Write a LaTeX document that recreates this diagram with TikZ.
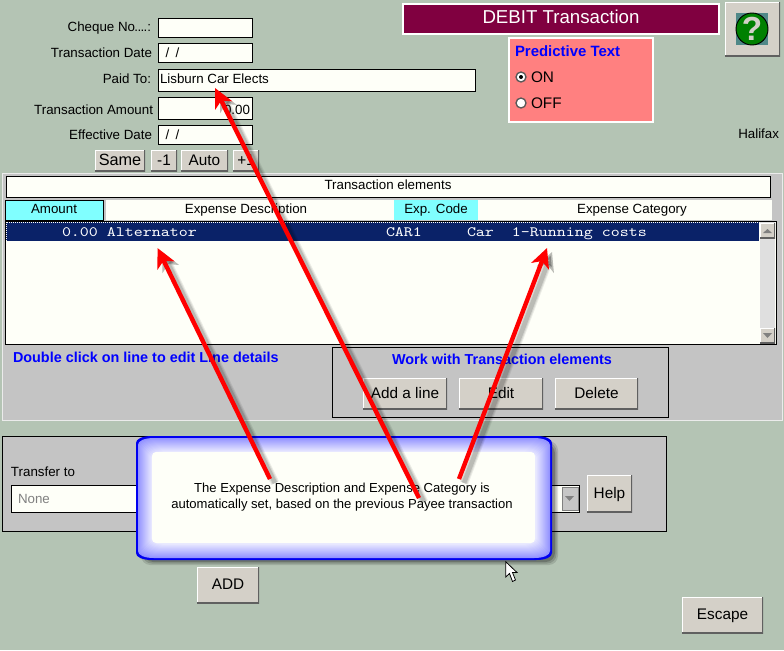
\documentclass[tikz,border=0pt]{standalone}
\usepackage{fontspec}
\setmainfont{Liberation Sans}
\setmonofont[FakeStretch=1.2]{Latin Modern Mono}
\usetikzlibrary{arrows.meta}
\definecolor{bgc}{HTML}{B4C4B4}
\definecolor{panelc}{HTML}{C4C4C4}
\definecolor{ivory}{HTML}{FEFFF8}
\definecolor{btnc}{HTML}{D4D0C8}
\definecolor{btnd}{HTML}{606060}
\definecolor{cyanc}{HTML}{80FFFF}
\definecolor{navyc}{HTML}{0A2268}
\definecolor{maroonc}{HTML}{800040}
\definecolor{pinkc}{HTML}{FF8080}
\definecolor{tealc}{HTML}{508888}
\definecolor{calloutb}{HTML}{0000F0}
\newcommand\bx[7]{\node[#2,minimum width={(#5-#3)*0.75pt},minimum height={(#6-#4)*0.75pt}] (#1) at ({(#3+#5)/2},{(#4+#6)/2}) {#7};}
\newcommand\redarrow[2]{%
  \foreach \w/\o in {6.5/0.07,5/0.09,3.4/0.13}{
    \draw[draw=black,opacity=\o,line width=\w pt,-{Stealth[length=14pt,width=13.5pt,inset=4pt]}] ([shift={(5,4)}]#1) -- ([shift={(5,4)}]#2);}
  \draw[draw=red,line width=3.3pt,-{Stealth[length=14.5pt,width=14pt,inset=4pt]}] (#1) -- (#2);}
% rounded outline with corners wider than tall, inset by #1 from the callout
\newcommand\calloutfill[2]{%
  \pgfmathsetmacro\xa{136+#1}\pgfmathsetmacro\xb{552-#1}%
  \pgfmathsetmacro\ya{436+#1}\pgfmathsetmacro\yb{560-#1}%
  \pgfmathsetmacro\xc{\xa+16}\pgfmathsetmacro\xd{\xb-16}%
  \pgfmathsetmacro\yc{\ya+7}\pgfmathsetmacro\yd{\yb-7}%
  \pgfmathsetmacro\xe{\xa+6}\pgfmathsetmacro\xf{\xb-6}%
  \pgfmathsetmacro\ye{\ya+3}\pgfmathsetmacro\yf{\yb-3}%
  \fill[#2] (\xa,\yc) .. controls (\xa,\ye) and (\xe,\ya) .. (\xc,\ya) -- (\xd,\ya)
  .. controls (\xf,\ya) and (\xb,\ye) .. (\xb,\yc) -- (\xb,\yd)
  .. controls (\xb,\yf) and (\xf,\yb) .. (\xd,\yb) -- (\xc,\yb)
  .. controls (\xe,\yb) and (\xa,\yf) .. (\xa,\yd) -- cycle;}
\tikzset{
  x=0.75pt,y=-0.75pt,
  every node/.style={inner sep=0pt,outer sep=0pt,font=\fontsize{10}{12}\selectfont},
  tbox/.style={draw=black,fill=ivory,line width=0.72pt},
  lbl/.style={anchor=base east},
  txt/.style={anchor=base west},
  ctr/.style={text height=7.2pt,text depth=0pt},
  winbtn/.style={ctr,fill=btnc,path picture={
    \draw[white,line width=2pt] (path picture bounding box.south west)--(path picture bounding box.north west)--(path picture bounding box.north east);
    \draw[btnd,line width=2pt] (path picture bounding box.south west)--(path picture bounding box.south east)--(path picture bounding box.north east);}},
  head/.style={text height=7.2pt,text depth=2.7pt,fill=ivory},
  headc/.style={text height=7.2pt,text depth=2.7pt,fill=cyanc},
  bluebold/.style={text=blue,font=\fontsize{10.8}{12}\selectfont\bfseries},
  rowtext/.style={anchor=base west,text=white,font=\fontsize{10.7}{12}\selectfont\ttfamily},
  btnfont/.style={font=\fontsize{11.5}{12}\selectfont},
}
\begin{document}
\begin{tikzpicture}
\useasboundingbox (0,0) rectangle (784,650);
\fill[bgc] (0,0) rectangle (784,650);

% top form
\bx{cheque}{tbox}{158}{18}{252}{37}{}
\bx{tdate}{tbox}{158}{43}{252}{62}{}
\bx{paid}{tbox}{158}{69}{475}{91}{}
\bx{amount}{tbox}{158}{97}{252}{119}{}
\bx{edate}{tbox}{158}{125}{252}{144}{}
\node[lbl] (lcheque) at (151,31) {Cheque No\kern-0.5pt.\kern-0.5pt.\kern-0.5pt.\kern-0.5pt.:};
\node[lbl] (ltdate) at (152,57) {Transaction Date};
\node[lbl] (lpaid) at (151,83) {Paid To:};
\node[lbl] (lamount) at (153,114) {Transaction Amount};
\node[lbl] (ledate) at (152,139) {Effective Date};
\node[txt] (vtdate) at (165.5,57) {/\hspace{2pt} /};
\node[txt] (vpaid) at (160,83) {Lisburn Car Elects};
\node[lbl] (vamount) at (250,114) {0.00};
\node[txt] (vedate) at (165.5,139) {/\hspace{2pt} /};
\bx{same}{winbtn,btnfont}{95}{150}{145}{171}{\fontsize{12.2}{12}\selectfont Same}
\bx{minus}{winbtn,btnfont}{151}{150}{177}{171}{-1}
\bx{auto}{winbtn,btnfont}{181}{150}{228}{171}{Auto}
\bx{plus}{winbtn,btnfont}{233}{150}{259}{171}{+1}

% title and help
\bx{title}{draw=white,fill=maroonc,text=white,line width=0.8pt,text height=10pt,text depth=4pt}{403}{4}{719}{34}{\fontsize{14}{16}\selectfont DEBIT Transaction}
\bx{helpq}{winbtn}{725}{2}{780}{56}{}
\fill[tealc] (736,13) rectangle (768,45);
\draw[black,fill=green!50!black,line width=0.7pt] (752,29) circle[radius=16];
\node[text=btnc,font=\fontsize{25}{25}\selectfont\bfseries] (qmark) at (752,29) {?};

% predictive text
\bx{pred}{draw=white,fill=pinkc,line width=0.8pt}{509}{38}{653}{122}{}
\node[txt,bluebold,font=\fontsize{11.2}{12}\selectfont\bfseries] (predt) at (515,56) {Predictive Text};
\draw[fill=white,draw=gray!70!black,line width=1pt] (521,77) circle[radius=5];
\fill[black] (521,77) circle[radius=2];
\draw[fill=white,draw=gray!70!black,line width=1pt] (521,103) circle[radius=5];
\node[txt,btnfont] (on) at (531,82.5) {ON};
\node[txt,btnfont] (off) at (531,108.5) {OFF};
\node[lbl] (halifax) at (779,138) {Halifax};

% main panel
\bx{panel}{fill=panelc,draw=white!92!black,line width=0.7pt}{2}{173}{782}{420}{}
\bx{telements}{tbox,text height=7.2pt,text depth=3.4pt}{6}{176}{770}{197}{Transaction elements}
\bx{hamount}{headc,draw=black,line width=0.72pt}{5}{200}{103}{220}{Amount}
\bx{hdesc}{head}{106}{200}{394}{220}{}
\node[head,fill=none] (hdesct) at (246,210) {Expense Description};
\bx{hcode}{headc}{394}{200}{478}{220}{Exp. Code}
\bx{hcat}{head}{478}{200}{772}{220}{}
\node[head,fill=none] (hcatt) at (632,210) {Expense Category};
\bx{list}{tbox}{5}{221}{776}{344}{}
\fill[navyc] (6,222) rectangle (759,241);
\draw[ivory,densely dotted,line width=0.5pt] (6,222) rectangle (759,241);
\node[rowtext] (row) at (62,236) {0.00 Alternator};
\node[rowtext] (rowb) at (386,236) {CAR1};
\node[rowtext] (rowc) at (467,236) {Car~~1-Running costs};
% scrollbar
\fill[gray!25!white] (760,222) rectangle (775,343);
\bx{sup}{winbtn}{760}{223}{775}{238}{}
\bx{sdown}{winbtn}{760}{328}{775}{343}{}
\fill[gray] (763,233) -- (772,233) -- (767.5,229) -- cycle;
\fill[gray] (763,333) -- (772,333) -- (767.5,338) -- cycle;
\node[txt,bluebold] (dbl) at (13,362) {Double click on line to edit Line details};
\bx{work}{draw=black,line width=0.7pt}{332}{347}{668}{417}{}
\node[bluebold,ctr] (workt) at (502,360) {Work with Transaction elements};
\bx{add}{winbtn,btnfont}{363}{378}{447}{409}{Add a line}
\bx{edit}{winbtn,btnfont}{459}{378}{543}{409}{Edit}
\bx{delete}{winbtn,btnfont}{555}{378}{638}{409}{Delete}

% transfer panel
\bx{tpanel}{fill=panelc,draw=black,line width=0.7pt}{2}{436}{666}{531}{}
\node[txt] (ttext) at (11,476) {Transfer to};
\bx{none}{tbox}{11}{485}{579}{512}{}
\node[txt,text=gray] (ntext) at (18,503) {None};
\bx{drop}{fill=gray!45!white,draw=gray,line width=0.6pt}{562}{487}{578}{510}{}
\fill[gray] (565,496) -- (574,496) -- (569.5,501) -- cycle;
\bx{help}{winbtn,btnfont}{587}{475}{632}{512}{Help}
\bx{addb}{winbtn,btnfont}{197}{567}{259}{603}{ADD}
\bx{escape}{winbtn,btnfont}{682}{597}{763}{633}{Escape}

% callout
\foreach \w/\o in {0/0.12,1.5/0.14,3/0.2}{
  \fill[black,opacity=\o,rounded corners=7pt] (141+\w,441+\w) rectangle (558-\w,565-\w);}
\calloutfill{0}{calloutb}
\foreach \i in {2,3,...,15}{
  \pgfmathsetmacro\pc{42-(\i-2)*2.5}
  \calloutfill{\i}{blue!\pc!white}}
\fill[ivory,rounded corners=3pt] (152,452) rectangle (535,543);
\node[align=center,font=\fontsize{9.8}{12}\selectfont] (callout) at (342,497.5) {The Expense Description and Expense Category is\\automatically set, based on the previous Payee transaction};

% mouse cursor
\draw[black,fill=white,line width=0.6pt,line join=miter] (505.7,561.7) -- (505.7,577) -- (509.5,573.5) -- (512.5,581.5) -- (515.5,580) -- (512.5,572.5) -- (517,572.5) -- cycle;

% arrows
\coordinate (s1) at (419,498);
\coordinate (t1) at (215,88);
\coordinate (s2) at (270,479);
\coordinate (t2) at (157.5,248);
\coordinate (s3) at (459,479);
\coordinate (t3) at (547,248);
\redarrow{s2}{t2}
\redarrow{s3}{t3}
\redarrow{s1}{t1}
\end{tikzpicture}
\end{document}
